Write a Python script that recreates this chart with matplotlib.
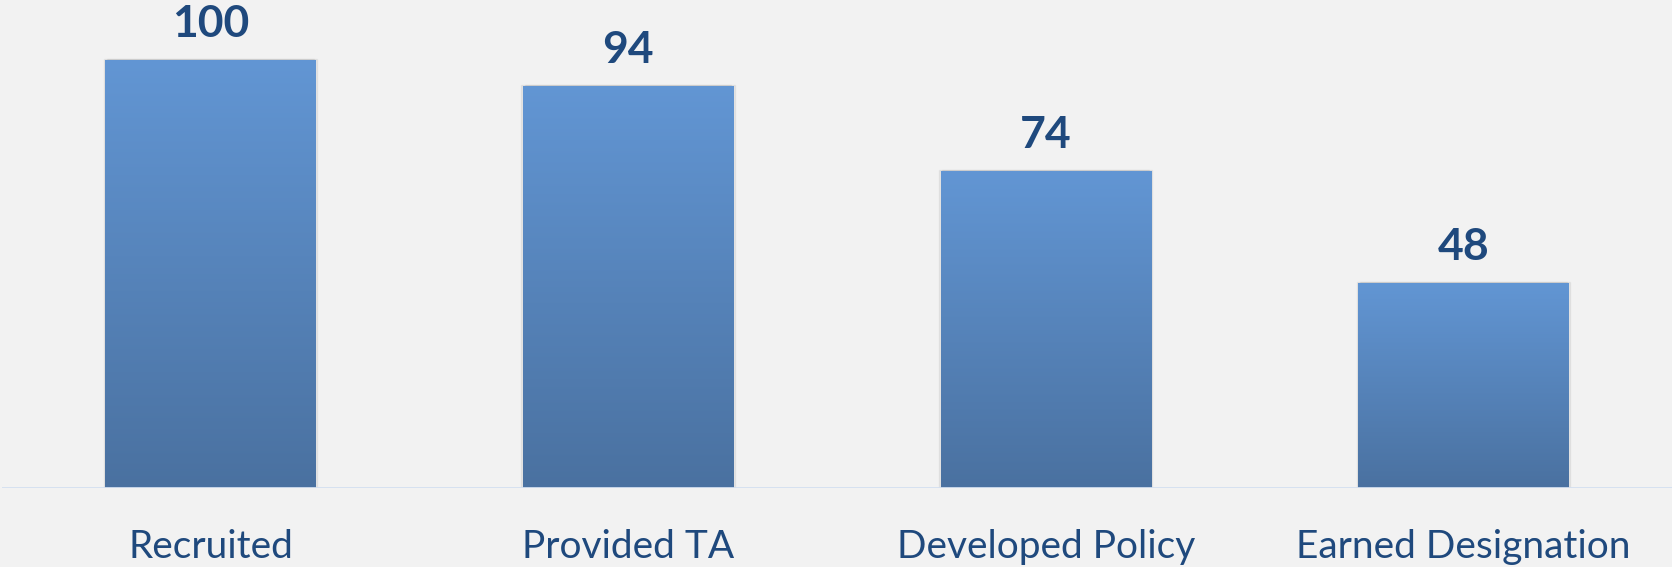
import numpy as np
import matplotlib.pyplot as plt
from matplotlib.colors import LinearSegmentedColormap

# data
categories = ['Recruited', 'Provided TA', 'Developed Policy', 'Earned Designation']
values = [100, 94, 74, 48]

bg = '#F2F2F2'
txt_color = '#1F497D'
grad = LinearSegmentedColormap.from_list('bar', ['#4A71A0', '#6296D4'])

fig = plt.figure(figsize=(16.72, 5.67), dpi=100)
fig.patch.set_facecolor(bg)
ax = fig.add_axes([0.001, 0.1388, 0.999, 0.8612])
ax.set_facecolor(bg)

x = np.arange(len(categories))
bars = ax.bar(x, values, width=0.503, color='none', zorder=2)

# gradient fill + faint shadow for each bar
g = np.linspace(0, 1, 256).reshape(-1, 1)
for b in bars:
    x0, w, h = b.get_x(), b.get_width(), b.get_height()
    for d in (-0.004, 0.004):
        sh = plt.Rectangle((x0 + d, 0), w, h + 0.2, color='#000000', alpha=0.05, zorder=1)
        ax.add_patch(sh)
    im = ax.imshow(g, extent=(x0, x0 + w, 0, h), origin='lower', cmap=grad,
                   aspect='auto', zorder=2)
    im.set_clip_path(b)

for xi, v in zip(x, values):
    ax.text(xi, v + 5.4, str(v), ha='center', va='baseline', fontsize=32,
            fontweight='bold', color=txt_color, family='Lato')

ax.set_xlim(-0.5, 3.5)
ax.set_ylim(0, 114)
ax.axhline(0, color='#D3DFF0', lw=2, zorder=3)
for s in ax.spines.values():
    s.set_visible(False)
ax.set_yticks([])
ax.set_xticks(x)
ax.set_xticklabels(categories, fontsize=28, color=txt_color, family='Lato')
ax.tick_params(axis='x', length=0, pad=29.5)

fig.savefig('out.png', dpi=100, facecolor=bg)
